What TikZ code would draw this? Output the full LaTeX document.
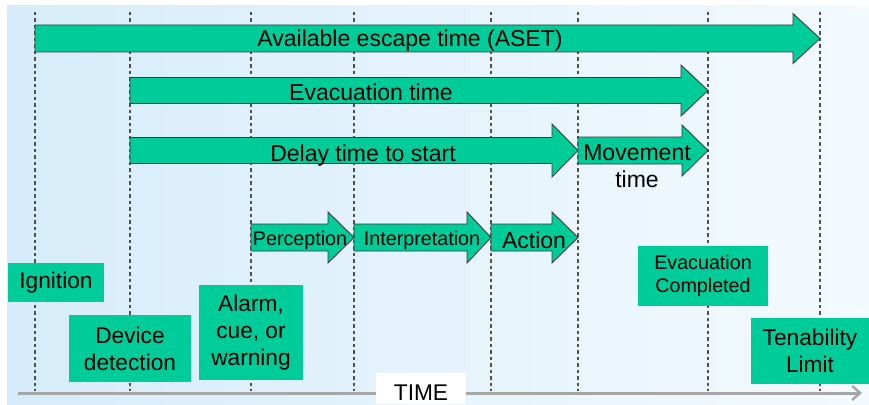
\documentclass[tikz,border=0pt]{standalone}
\usepackage{fontspec}
\setmainfont{Liberation Sans}
\usetikzlibrary{arrows.meta}
\definecolor{sea}{HTML}{00CC99}
\definecolor{bgl}{HTML}{D6ECFA}
\definecolor{bgr}{HTML}{F4FAFE}
\definecolor{outl}{HTML}{3A3A3A}
\definecolor{dashc}{HTML}{505050}
\definecolor{axisc}{HTML}{A6A6A6}
\newcommand{\greenarrow}[6]{%
  \draw[arrowshape] (#1,#4-#5) -- (#2,#4-#5) -- (#2,#4-#6) -- (#3,#4) -- (#2,#4+#6) -- (#2,#4+#5) -- (#1,#4+#5) -- cycle;}
\tikzset{
  arrowshape/.style={fill=sea, draw=outl, line width=0.9pt, line join=miter},
  bigtext/.style={font=\fontsize{23}{27}\selectfont, inner sep=0pt, anchor=base},
  smalltext/.style={font=\fontsize{19.7}{23.5}\selectfont, inner sep=0pt, anchor=base},
  greenbox/.style={fill=sea, inner sep=0pt, align=center, font=\fontsize{22.7}{27}\selectfont},
  timeline/.style={draw=dashc, line width=1.2pt, dash pattern=on 3.5pt off 3pt},
}
\begin{document}
\begin{tikzpicture}[x=1pt,y=-1pt]
\useasboundingbox (0,0) rectangle (869,404);
\fill[white] (0,0) rectangle (869,404);
\shade[left color=bgl, right color=bgr] (7,6) rectangle (869,404);
% dashed time marks
\foreach \xx in {35,130,251,354,491,578,708,820}{
  \coordinate (top\xx) at (\xx,12);
  \coordinate (bot\xx) at (\xx,391);
  \draw[timeline] (top\xx) -- (bot\xx);
}
% axis
\coordinate (axstart) at (18,393);
\coordinate (axend) at (862,393);
\draw[axisc, line width=3pt, -{Straight Barb[length=8pt,width=14pt,line width=2.4pt]}] (axstart) -- (axend);
\node[fill=white, anchor=base, text height=27pt, text depth=4pt, text width=90pt, align=center, inner sep=0pt,
      font=\fontsize{22.7}{27}\selectfont] (time) at (421,400) {TIME};
% arrows
\greenarrow{35}{793}{820}{38.5}{13.5}{25}
\node[bigtext] (aset) at (410,47) {Available escape time (ASET)};
\greenarrow{130}{681}{708}{90.5}{13}{25.5}
\node[bigtext] (evac) at (371,100) {Evacuation time};
\greenarrow{130}{552}{578}{150.5}{13}{26.5}
\node[bigtext] (delay) at (363,161) {Delay time to start};
\greenarrow{578}{682}{708}{150.5}{13.5}{25.5}
\node[bigtext] (move) at (637,160) {Movement};
\node[bigtext] (movetime) at (637,187) {time};
\greenarrow{251}{328}{354}{237.5}{13.5}{25.5}
\node[smalltext] (perc) at (300,245) {Perception};
\greenarrow{354}{467}{491}{237.5}{13.5}{25.5}
\node[smalltext] (interp) at (422,245) {Interpretation};
\greenarrow{491}{552}{578}{237.5}{13.5}{25.5}
\node[bigtext] (action) at (534,248) {Action};
% boxes
\node[greenbox, minimum width=96pt, minimum height=39pt, text depth=5pt] (ign) at (56,282.5) {Ignition};
\node[greenbox, minimum width=122pt, minimum height=67pt] (dev) at (130,348.5) {Device\\detection};
\node[greenbox, minimum width=104pt, minimum height=95pt] (alarm) at (251,332.5) {Alarm,\\cue, or\\warning};
\node[greenbox, minimum width=130pt, minimum height=60pt, font=\fontsize{19.7}{23.5}\selectfont] (evacdone) at (703,276) {Evacuation\\Completed};
\node[greenbox, minimum width=118pt, minimum height=66pt] (ten) at (810,351) {Tenability\\Limit};
\end{tikzpicture}
\end{document}
